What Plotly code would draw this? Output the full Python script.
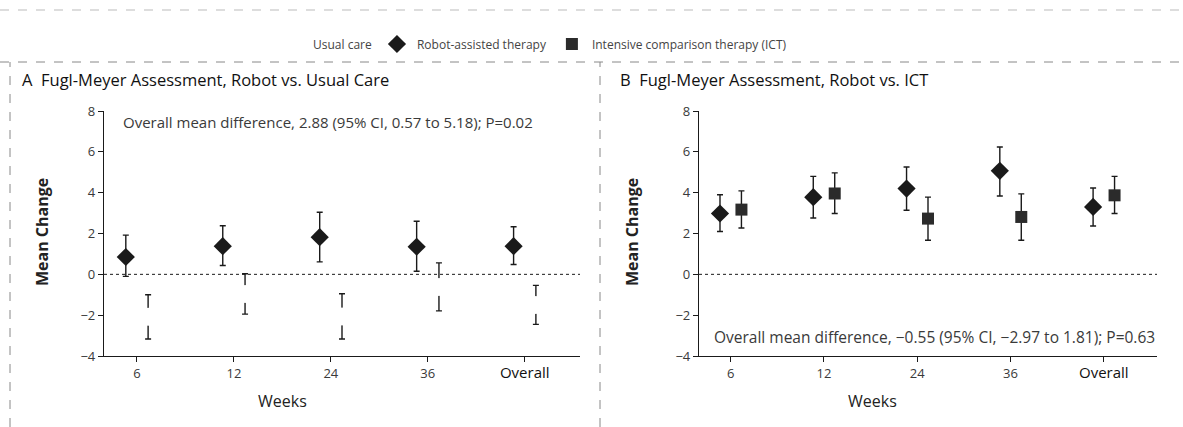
import plotly.graph_objects as go

# ---------------- data ----------------
weeks = ["6", "12", "24", "36", "Overall"]

# Panel A: Robot vs Usual care
robot_a = [0.85, 1.38, 1.82, 1.35, 1.38]
robot_a_hi = [1.92, 2.38, 3.04, 2.60, 2.33]
robot_a_lo = [-0.10, 0.43, 0.61, 0.15, 0.48]

usual_a = [-2.08, -0.96, -2.06, -0.62, -1.50]
usual_a_hi = [-1.00, 0.03, -0.95, 0.56, -0.54]
usual_a_lo = [-3.17, -1.95, -3.17, -1.79, -2.45]

# Panel B: Robot vs ICT
robot_b = [2.98, 3.78, 4.20, 5.07, 3.30]
robot_b_hi = [3.90, 4.80, 5.26, 6.24, 4.23]
robot_b_lo = [2.10, 2.76, 3.14, 3.84, 2.37]

ict_b = [3.17, 3.96, 2.73, 2.81, 3.87]
ict_b_hi = [4.09, 4.97, 3.78, 3.94, 4.80]
ict_b_lo = [2.27, 2.98, 1.67, 1.67, 2.98]

yticks = [-4, -2, 0, 2, 4, 6, 8]
# ---------------------------------------

OFF = 0.115
pos = list(range(len(weeks)))
INK = "#1a1a1a"
TXT = "#3a3a3a"
FONT = "Open Sans"
W, H = 1183, 427

ticktext = [w if w != "Overall" else
            "<span style='font-size:15px;color:#111'>Overall</span>" for w in weeks]


def errs(c, hi, lo):
    return ([h - v for h, v in zip(hi, c)], [v - l for v, l in zip(c, lo)])


fig = go.Figure()


def add(xs, c, hi, lo, sym, color, size, name, xa, ya, show):
    up, dn = errs(c, hi, lo)
    fig.add_trace(go.Scatter(
        x=xs, y=c, mode="markers", name=name, showlegend=show,
        xaxis=xa, yaxis=ya,
        marker=dict(symbol=sym, color=color, size=size, line=dict(width=0)),
        error_y=dict(type="data", symmetric=False, array=up, arrayminus=dn,
                     color=INK, thickness=1.4, width=3),
    ))


# Panel A
add([p + OFF for p in pos], usual_a, usual_a_hi, usual_a_lo, "circle", "white", 18,
    "Usual care", "x", "y", True)
add([p - OFF for p in pos], robot_a, robot_a_hi, robot_a_lo, "diamond", INK, 14,
    "Robot-assisted therapy", "x", "y", True)
# Panel B
add([p - OFF for p in pos], robot_b, robot_b_hi, robot_b_lo, "diamond", INK, 14,
    "Robot-assisted therapy", "x2", "y2", False)
add([p + OFF for p in pos], ict_b, ict_b_hi, ict_b_lo, "square", "#2b2b2b", 12,
    "Intensive comparison therapy (ICT)", "x2", "y2", True)

ydom = [1 - 356 / H, 1 - 111 / H]
xr = [-0.34, 4.57]

xcommon = dict(range=xr, tickvals=pos, ticktext=ticktext, showline=True, linecolor=INK,
               linewidth=1.2, ticks="outside", ticklen=5, tickcolor=INK, showgrid=False,
               zeroline=False, automargin=False,
               tickfont=dict(family=FONT, size=13, color=TXT))
ycommon = dict(range=[-4, 8], tickvals=yticks, showline=True, linecolor=INK,
               linewidth=1.2, ticks="outside", ticklen=5, tickcolor=INK, showgrid=False,
               zeroline=False, automargin=False,
               tickfont=dict(family=FONT, size=13, color=TXT), domain=ydom)

fig.update_layout(
    template="none",
    width=W, height=H,
    margin=dict(l=0, r=0, t=0, b=0, pad=0, autoexpand=False),
    paper_bgcolor="white", plot_bgcolor="white",
    font=dict(family=FONT, color=TXT),
    xaxis=dict(domain=[104 / W, 580 / W], anchor="y", **xcommon),
    yaxis=dict(anchor="x", **ycommon),
    xaxis2=dict(domain=[699 / W, 1157 / W], anchor="y2", **xcommon),
    yaxis2=dict(anchor="x2", **ycommon),
    legend=dict(orientation="h", x=(313 - 40) / W, xanchor="left", y=1 - 44 / H,
                yanchor="middle", font=dict(family=FONT, size=12, color="#444"),
                itemwidth=30, bgcolor="rgba(0,0,0,0)", borderwidth=0),
    showlegend=True,
)

# zero reference lines
for xa, ya in (("x", "y"), ("x2", "y2")):
    fig.add_shape(type="line", xref=f"{xa} domain", yref=ya, x0=0, x1=1, y0=0, y1=0,
                  line=dict(color=INK, width=1, dash="dot"))

# scan frame lines
for y, c in ((10, "#bbb"), (62, "#888")):
    fig.add_shape(type="line", xref="paper", yref="paper", x0=0, x1=1,
                  y0=1 - y / H, y1=1 - y / H,
                  line=dict(color=c, width=1, dash="dash"))
for x in (10, 600):
    fig.add_shape(type="line", xref="paper", yref="paper", x0=x / W, x1=x / W,
                  y0=0, y1=1 - 62 / H, line=dict(color="#888", width=1, dash="dash"))

ann = [
    dict(text="A  Fugl-Meyer Assessment, Robot vs. Usual Care", x=20, y=79, size=16.5, color="#111"),
    dict(text="B  Fugl-Meyer Assessment, Robot vs. ICT", x=618, y=79, size=16.5, color="#111"),
    dict(text="Overall mean difference, 2.88 (95% CI, 0.57 to 5.18); P=0.02", x=121, y=122,
         size=15, color=TXT),
    dict(text="Overall mean difference, \u22120.55 (95% CI, \u22122.97 to 1.81); P=0.63",
         x=712, y=337, size=15.5, color=TXT),
]
for a in ann:
    fig.add_annotation(text=a["text"], xref="paper", yref="paper", x=a["x"] / W,
                       y=1 - a["y"] / H, xanchor="left", yanchor="middle", showarrow=False,
                       font=dict(family=FONT, size=a["size"], color=a["color"]))

for x in (42, 632):
    fig.add_annotation(text="<b>Mean Change</b>", xref="paper", yref="paper", x=x / W,
                       y=1 - 232 / H, textangle=-90, showarrow=False,
                       xanchor="center", yanchor="middle",
                       font=dict(family=FONT, size=16, color="#222"))
for x in (282, 872):
    fig.add_annotation(text="Weeks", xref="paper", yref="paper", x=x / W,
                       y=1 - 401 / H, showarrow=False,
                       xanchor="center", yanchor="middle",
                       font=dict(family=FONT, size=16, color="#222"))

fig.write_html("out.html", config={"displayModeBar": False},
               post_script="document.body.style.margin='0';document.body.style.overflow='hidden';")
